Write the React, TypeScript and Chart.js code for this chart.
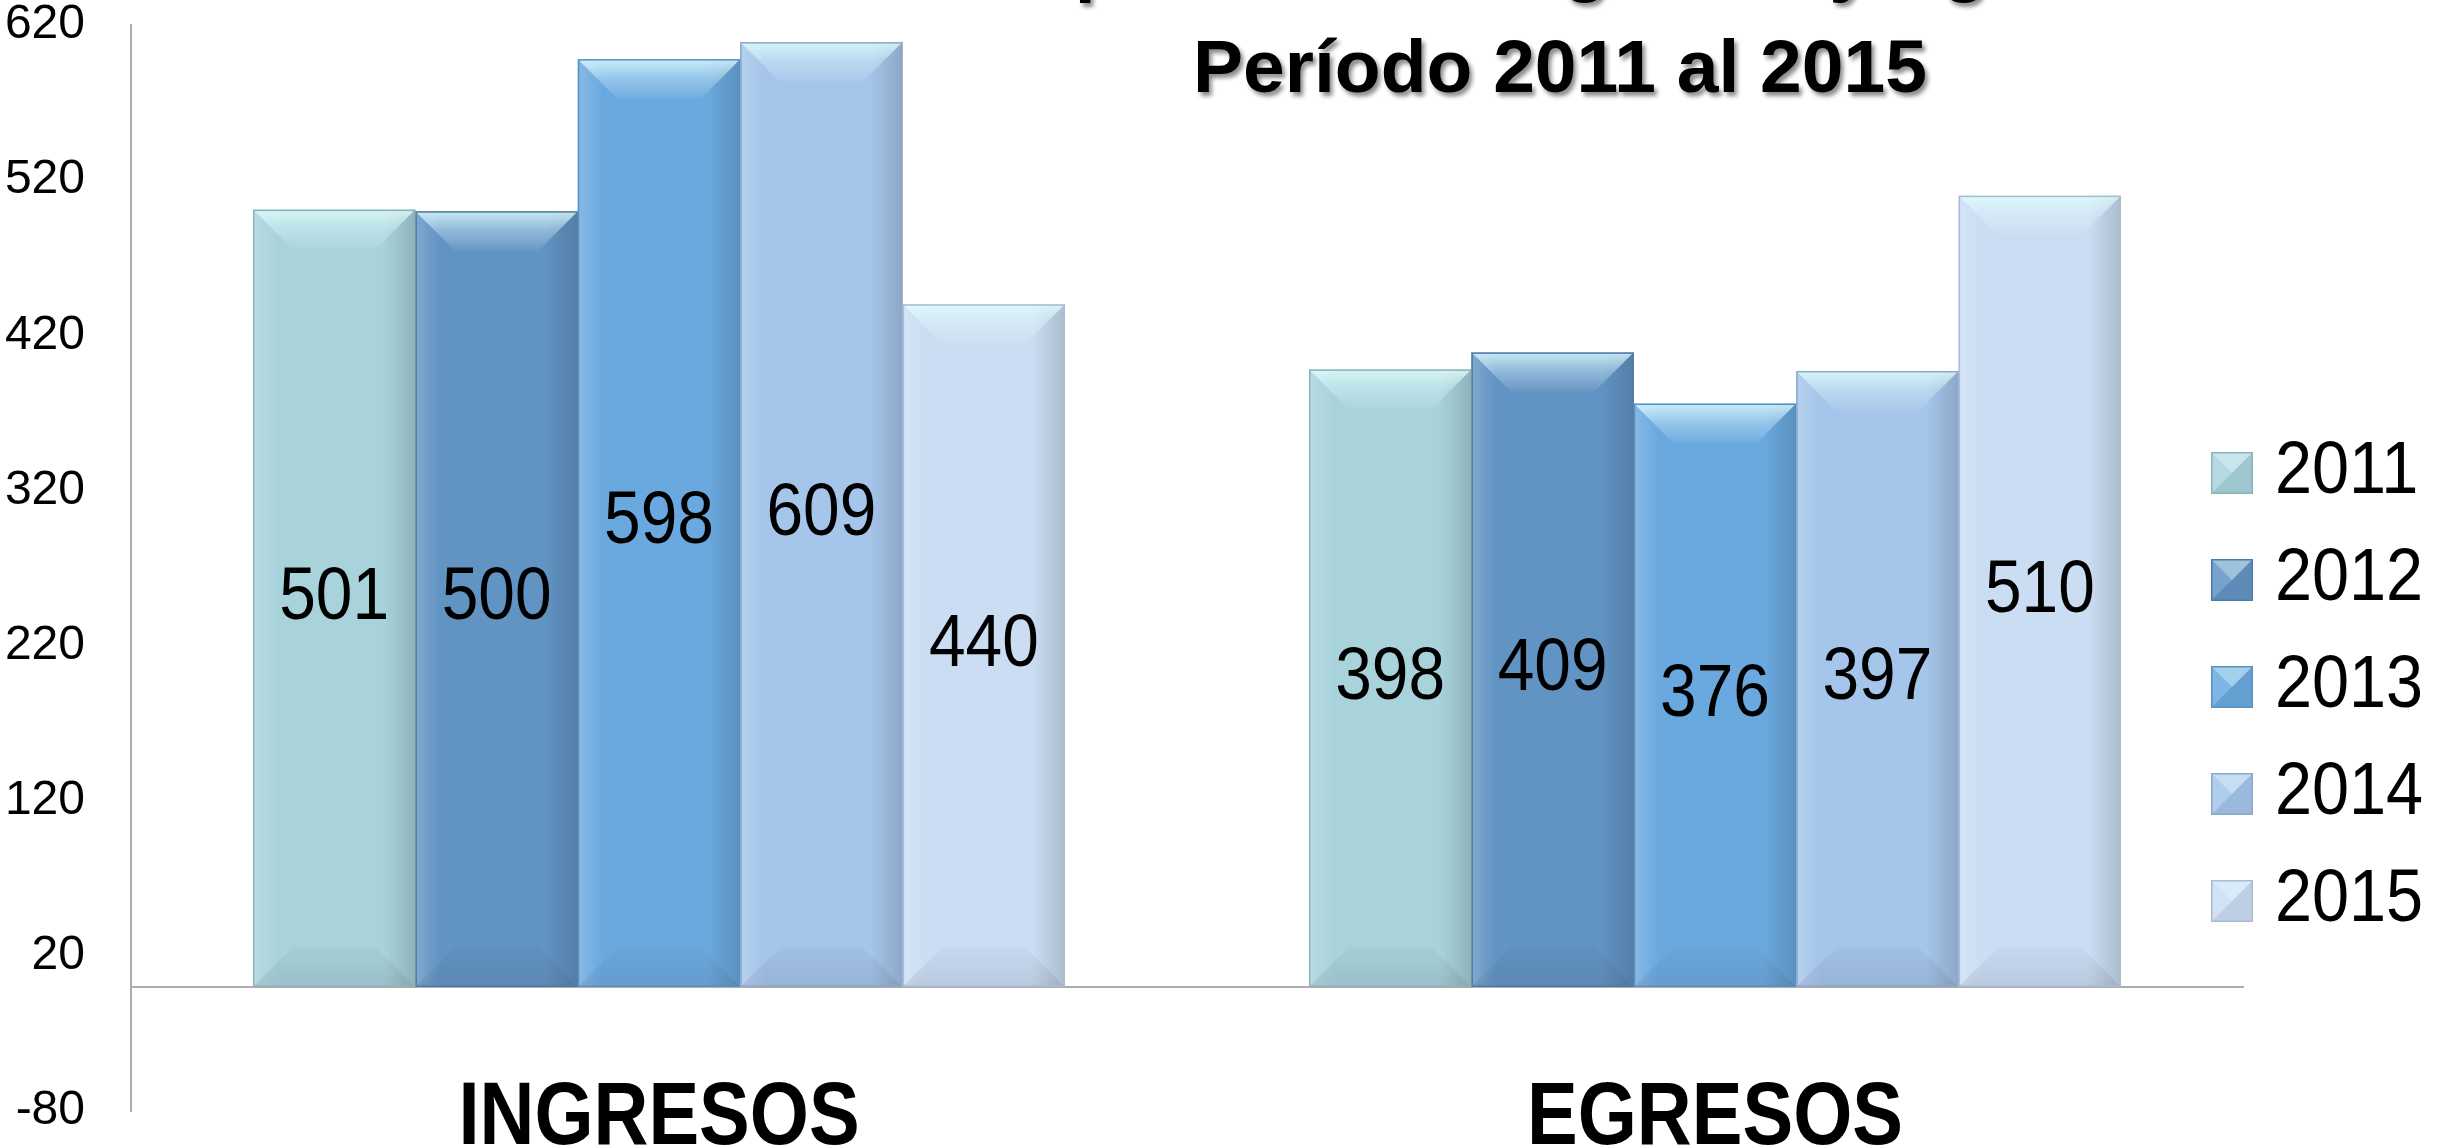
import React, { useEffect, useRef } from "react";
import { Chart, registerables } from "chart.js";

Chart.register(...registerables);

// ---------- data ----------
const categories = ["INGRESOS", "EGRESOS"];
const years = ["2011", "2012", "2013", "2014", "2015"];
const ingresos = [501, 500, 598, 609, 440];
const egresos = [398, 409, 376, 397, 510];
const yMin = -80;
const yMax = 620;
const yStep = 100;
const titleLines = ["Comparativo de Ingresos y Egresos", "Período 2011 al 2015"];

// ---------- styles ----------
const fillColors = ["#A8D3DB", "#6193C3", "#6AA9DF", "#A5C5EA", "#CBDDF3"];
const edgeColors = ["#8DB3B9", "#4E7BA5", "#5A91C0", "#89A8CB", "#A9BCD3"];
const W = 2443;
const H = 1147;
const SANS = "'Liberation Sans', Arial, sans-serif";
const CAT_FONT_SIZE = 76;
const CAT_PAD = 77;
const CAT_STRETCH = 1.18;

const bevelPlugin = {
  id: "bevelAndLabels",
  afterDatasetsDraw(chart: any) {
    const ctx = chart.ctx as CanvasRenderingContext2D;
    chart.data.datasets.forEach((ds: any, di: number) => {
      const meta = chart.getDatasetMeta(di);
      meta.data.forEach((el: any) => {
        const { x, y, base, width } = el.getProps(["x", "y", "base", "width"], true);
        const l = x - width / 2;
        const r = x + width / 2;
        const t = Math.min(y, base);
        const b = Math.max(y, base);
        const bv = Math.min(40, (b - t) / 2, width / 2);
        ctx.save();
        let g = ctx.createLinearGradient(l, 0, r, 0);
        g.addColorStop(0, "rgba(255,255,255,0.2)");
        g.addColorStop(0.15, "rgba(255,255,255,0)");
        g.addColorStop(0.8, "rgba(0,0,0,0)");
        g.addColorStop(1, "rgba(0,0,0,0.15)");
        ctx.fillStyle = g;
        ctx.fillRect(l, t, width, b - t);
        // top bevel
        ctx.beginPath();
        ctx.moveTo(l, t);
        ctx.lineTo(r, t);
        ctx.lineTo(r - bv, t + bv);
        ctx.lineTo(l + bv, t + bv);
        ctx.closePath();
        g = ctx.createLinearGradient(0, t, 0, t + bv);
        g.addColorStop(0, "rgba(225,255,255,0.8)");
        g.addColorStop(0.5, "rgba(225,250,255,0.35)");
        g.addColorStop(1, "rgba(255,255,255,0.03)");
        ctx.fillStyle = g;
        ctx.fill();
        // bottom bevel
        ctx.beginPath();
        ctx.moveTo(l, b);
        ctx.lineTo(r, b);
        ctx.lineTo(r - bv, b - bv);
        ctx.lineTo(l + bv, b - bv);
        ctx.closePath();
        g = ctx.createLinearGradient(0, b - bv, 0, b);
        g.addColorStop(0, "rgba(60,60,80,0.03)");
        g.addColorStop(1, "rgba(60,60,80,0.12)");
        ctx.fillStyle = g;
        ctx.fill();
        ctx.strokeStyle = edgeColors[di];
        ctx.lineWidth = 1.5;
        ctx.strokeRect(l + 0.75, t + 0.75, width - 1.5, b - t - 1.5);
        ctx.restore();
      });
    });
    // value labels
    chart.data.datasets.forEach((ds: any, di: number) => {
      const meta = chart.getDatasetMeta(di);
      meta.data.forEach((el: any, i: number) => {
        const { x, y, base } = el.getProps(["x", "y", "base"], true);
        ctx.save();
        ctx.fillStyle = "#000";
        ctx.font = `74px ${SANS}`;
        ctx.textAlign = "center";
        ctx.textBaseline = "middle";
        ctx.translate(x, (y + base) / 2);
        ctx.scale(0.89, 1);
        ctx.fillText(String(ds.data[i]), 0, 0);
        ctx.restore();
      });
    });
  },
};

const axisLabelStretch = {
  id: "axisLabelStretch",
  beforeDraw(chart: any) {
    const sc: any = chart.scales.x;
    if (!sc || sc.__stretched) return;
    const orig = sc.drawLabels.bind(sc);
    sc.drawLabels = (area: any) => {
      const ctx = chart.ctx as CanvasRenderingContext2D;
      const y0 = chart.scales.y.getPixelForValue(0);
      const cy = y0 + CAT_PAD + (CAT_FONT_SIZE * 1.2) / 2;
      ctx.save();
      ctx.translate(0, cy);
      ctx.scale(1, CAT_STRETCH);
      ctx.translate(0, -cy);
      orig(area);
      ctx.restore();
    };
    sc.__stretched = true;
  },
};

const overlayPlugin = {
  id: "titleAndLegend",
  afterDraw(chart: any) {
    const ctx = chart.ctx as CanvasRenderingContext2D;
    // title
    ctx.save();
    ctx.font = `bold 75px ${SANS}`;
    ctx.textAlign = "center";
    ctx.textBaseline = "alphabetic";
    ctx.fillStyle = "#000";
    ctx.shadowColor = "rgba(0,0,0,0.45)";
    ctx.shadowOffsetX = 3;
    ctx.shadowOffsetY = 4;
    ctx.shadowBlur = 4;
    ctx.fillText(titleLines[0], 1548, -12);
    ctx.fillText(titleLines[1], 1560, 92);
    ctx.restore();

    // legend
    const s = 42;
    const mx = 2211;
    chart.data.datasets.forEach((ds: any, di: number) => {
      const cy = 473 + di * 107;
      const top = cy - s / 2;
      ctx.save();
      ctx.fillStyle = fillColors[di];
      ctx.fillRect(mx, top, s, s);
      ctx.beginPath();
      ctx.moveTo(mx, top);
      ctx.lineTo(mx + s, top);
      ctx.lineTo(mx, top + s);
      ctx.closePath();
      ctx.fillStyle = "rgba(255,255,255,0.14)";
      ctx.fill();
      ctx.beginPath();
      ctx.moveTo(mx, top);
      ctx.lineTo(mx + s, top);
      ctx.lineTo(mx + s / 2, top + s / 2);
      ctx.closePath();
      ctx.fillStyle = "rgba(235,255,255,0.35)";
      ctx.fill();
      ctx.beginPath();
      ctx.moveTo(mx + s, top);
      ctx.lineTo(mx + s, top + s);
      ctx.lineTo(mx, top + s);
      ctx.closePath();
      ctx.fillStyle = "rgba(40,50,70,0.08)";
      ctx.fill();
      ctx.strokeStyle = edgeColors[di];
      ctx.lineWidth = 1.5;
      ctx.strokeRect(mx + 0.75, top + 0.75, s - 1.5, s - 1.5);
      ctx.fillStyle = "#000";
      ctx.font = `74px ${SANS}`;
      ctx.textAlign = "left";
      ctx.textBaseline = "middle";
      ctx.translate(2275, cy);
      ctx.scale(0.9, 1);
      ctx.fillText(ds.label, 0, 0);
      ctx.restore();
    });
  },
};

export default function App() {
  const ref = useRef<HTMLCanvasElement | null>(null);

  useEffect(() => {
    if (!ref.current) return;
    const datasets = years.map((yr, i) => ({
      label: yr,
      data: [ingresos[i], egresos[i]],
      backgroundColor: fillColors[i],
      borderWidth: 0,
      categoryPercentage: 0.769,
      barPercentage: 1.0,
    }));

    const chart = new Chart(ref.current, {
      type: "bar",
      data: { labels: categories, datasets },
      options: {
        animation: false,
        responsive: false,
        devicePixelRatio: 1,
        layout: { padding: { left: 0, top: 25, right: 200, bottom: 36 } },
        plugins: {
          legend: { display: false },
          title: { display: false },
          tooltip: { enabled: false },
        },
        scales: {
          x: {
            position: { y: 0 } as any,
            grid: { display: false },
            border: { display: true, color: "#ADADAD", width: 2 },
            ticks: {
              color: "#000",
              font: { family: SANS, size: CAT_FONT_SIZE, weight: "bold" },
              padding: CAT_PAD,
              maxRotation: 0,
              minRotation: 0,
            },
          },
          y: {
            min: yMin,
            max: yMax,
            grid: { display: false },
            border: { display: true, color: "#ADADAD", width: 2 },
            ticks: {
              stepSize: yStep,
              color: "#000",
              font: { family: SANS, size: 48 },
              padding: 38,
            },
            afterFit: (scale: any) => {
              scale.width = 131;
              scale.paddingTop = 0;
              scale.paddingBottom = 0;
            },
          },
        },
      },
      plugins: [axisLabelStretch, bevelPlugin, overlayPlugin],
    });
    return () => chart.destroy();
  }, []);

  return (
    <div style={{ position: "absolute", left: 0, top: 0, width: W, height: H, background: "#fff" }}>
      <canvas ref={ref} width={W} height={H} style={{ width: W, height: H, display: "block" }} />
    </div>
  );
}
